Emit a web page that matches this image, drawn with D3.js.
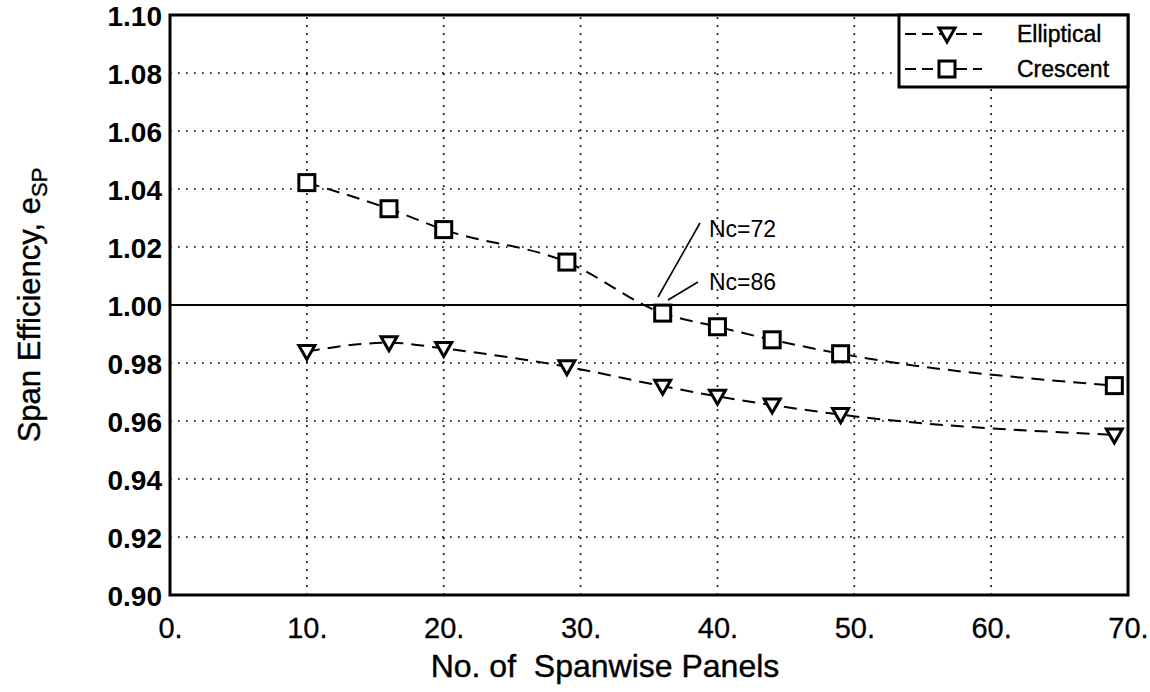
<!DOCTYPE html>
<html>
  <head>
    <meta charset="utf-8">
    <title>Span Efficiency</title>
    <script src="https://cdn.jsdelivr.net/npm/d3@7"></script>
    <style>
      html, body { margin: 0; background: #fff; }
      text { font-family: "Liberation Sans", Arial, sans-serif; fill: #000; }
    </style>
  </head>
  <body>
    <script>
    // data
    var panels      = [10, 16, 20, 29, 36, 40, 44, 49, 69];
    var elliptical  = [0.9840, 0.9870, 0.9850, 0.9787, 0.9720, 0.9685, 0.9655, 0.9622, 0.9552];
    var crescent    = [1.0422, 1.0332, 1.0260, 1.0148, 0.9972, 0.9925, 0.9880, 0.9832, 0.9722];
    var xTicks      = [0, 10, 20, 30, 40, 50, 60, 70];
    var yTicks      = [0.90, 0.92, 0.94, 0.96, 0.98, 1.00, 1.02, 1.04, 1.06, 1.08, 1.10];
    var seriesNames = ["Elliptical", "Crescent"];

    var W = 1150, H = 692;
    var m = {left: 170, top: 15, right: 22, bottom: 97};

    var svg = d3.select("body").append("svg")
                .attr("width", W).attr("height", H);

    var x = d3.scaleLinear().domain([0, 70]).range([m.left, W - m.right]);
    var y = d3.scaleLinear().domain([0.90, 1.10]).range([H - m.bottom, m.top]);

    // dotted grid
    svg.append("g").selectAll("line")
        .data(xTicks.slice(1, -1))
        .enter().append("line")
        .attr("x1", d => x(d)).attr("x2", d => x(d))
        .attr("y1", y(0.90)).attr("y2", y(1.10))
        .attr("stroke", "#000").attr("stroke-width", 1.7)
        .attr("stroke-dasharray", "1.7,6.3");

    svg.append("g").selectAll("line")
        .data(yTicks.filter(d => d > 0.901 && d < 1.099 && Math.abs(d - 1) > 0.001))
        .enter().append("line")
        .attr("x1", x(0)).attr("x2", x(70))
        .attr("y1", d => y(d)).attr("y2", d => y(d))
        .attr("stroke", "#000").attr("stroke-width", 1.7)
        .attr("stroke-dasharray", "1.7,6.3");

    // reference line at 1.00
    svg.append("line")
        .attr("x1", x(0)).attr("x2", x(70))
        .attr("y1", y(1)).attr("y2", y(1))
        .attr("stroke", "#000").attr("stroke-width", 1.8);

    // axes (labels only, frame drawn separately)
    var xAxis = d3.axisBottom(x).tickValues(xTicks).tickSize(0).tickPadding(22)
                  .tickFormat(d => d + ".");
    var gx = svg.append("g").attr("transform", "translate(0," + y(0.90) + ")").call(xAxis);
    gx.select(".domain").remove();
    gx.selectAll("text").attr("font-family", "Liberation Sans")
      .style("font-size", "29px").style("stroke", "#000").style("stroke-width", "0.3px");

    var yAxis = d3.axisLeft(y).tickValues(yTicks).tickSize(0).tickPadding(8)
                  .tickFormat(d3.format(".2f"));
    var gy = svg.append("g").attr("transform", "translate(" + x(0) + ",0)").call(yAxis);
    gy.select(".domain").remove();
    gy.selectAll("text").attr("font-family", "Liberation Sans")
      .style("font-size", "28px").style("font-weight", "bold").attr("dy", "0.36em");

    // frame
    svg.append("rect")
        .attr("x", x(0)).attr("y", y(1.10))
        .attr("width", x(70) - x(0)).attr("height", y(0.90) - y(1.10))
        .attr("fill", "none").attr("stroke", "#000").attr("stroke-width", 3);

    // series
    var line = d3.line().curve(d3.curveMonotoneX)
                 .x(d => x(d[0])).y(d => y(d[1]));

    var seriesData = [
      panels.map((p, i) => [p, elliptical[i]]),
      panels.map((p, i) => [p, crescent[i]])
    ];

    svg.append("g").selectAll("path")
        .data(seriesData)
        .enter().append("path")
        .attr("d", line)
        .attr("fill", "none").attr("stroke", "#000")
        .attr("stroke-width", 2).attr("stroke-dasharray", "13,8");

    var tri = "M-8,-6L8,-6L0,8Z";

    svg.append("g").selectAll("path")
        .data(seriesData[0])
        .enter().append("path")
        .attr("d", tri)
        .attr("transform", d => "translate(" + x(d[0]) + "," + y(d[1]) + ")")
        .attr("fill", "#fff").attr("stroke", "#000").attr("stroke-width", 3)
        .attr("stroke-linejoin", "miter");

    svg.append("g").selectAll("rect")
        .data(seriesData[1])
        .enter().append("rect")
        .attr("x", d => x(d[0]) - 8).attr("y", d => y(d[1]) - 8)
        .attr("width", 16).attr("height", 16)
        .attr("fill", "#fff").attr("stroke", "#000").attr("stroke-width", 3);

    // annotations
    var ann = svg.append("g");
    ann.append("line").attr("x1", 700).attr("y1", 223).attr("x2", 658).attr("y2", 297)
       .attr("stroke", "#000").attr("stroke-width", 1.6);
    ann.append("line").attr("x1", 698).attr("y1", 282).attr("x2", 668).attr("y2", 300)
       .attr("stroke", "#000").attr("stroke-width", 1.6);
    ann.append("text").attr("x", 709).attr("y", 237).style("font-size", "23px").text("Nc=72");
    ann.append("text").attr("x", 709).attr("y", 290).style("font-size", "23px").text("Nc=86");

    // legend
    var lg = svg.append("g");
    lg.append("rect").attr("x", 899).attr("y", y(1.10)).attr("width", x(70) - 899).attr("height", 72)
      .attr("fill", "#fff").attr("stroke", "#000").attr("stroke-width", 3);
    var rows = [34, 69];
    seriesNames.forEach(function(name, i) {
      lg.append("line").attr("x1", 905).attr("x2", 982).attr("y1", rows[i]).attr("y2", rows[i])
        .attr("stroke", "#000").attr("stroke-width", 2).attr("stroke-dasharray", "11,6");
      if (i == 0) {
        lg.append("path").attr("d", tri).attr("transform", "translate(947," + rows[i] + ")")
          .attr("fill", "#fff").attr("stroke", "#000").attr("stroke-width", 3);
      } else {
        lg.append("rect").attr("x", 939).attr("y", rows[i] - 8).attr("width", 16).attr("height", 16)
          .attr("fill", "#fff").attr("stroke", "#000").attr("stroke-width", 3);
      }
      lg.append("text").attr("x", 1017).attr("y", rows[i] + 8).style("font-size", "23px")
        .style("stroke", "#000").style("stroke-width", "0.4px").text(name);
    });

    // axis titles
    svg.append("text").attr("x", 605).attr("y", 677)
       .attr("text-anchor", "middle").style("font-size", "32px")
       .style("white-space", "pre").style("stroke", "#000").style("stroke-width", "0.4px")
       .text("No. of  Spanwise Panels");

    var yt = svg.append("text")
       .attr("transform", "translate(40," + y(1.00) + ") rotate(-90)")
       .attr("text-anchor", "middle").style("font-size", "31px")
       .style("stroke", "#000").style("stroke-width", "0.4px");
    yt.append("tspan").text("Span Efficiency, e");
    yt.append("tspan").attr("dy", 7).style("font-size", "22px").text("SP");
    </script>
  </body>
</html>
